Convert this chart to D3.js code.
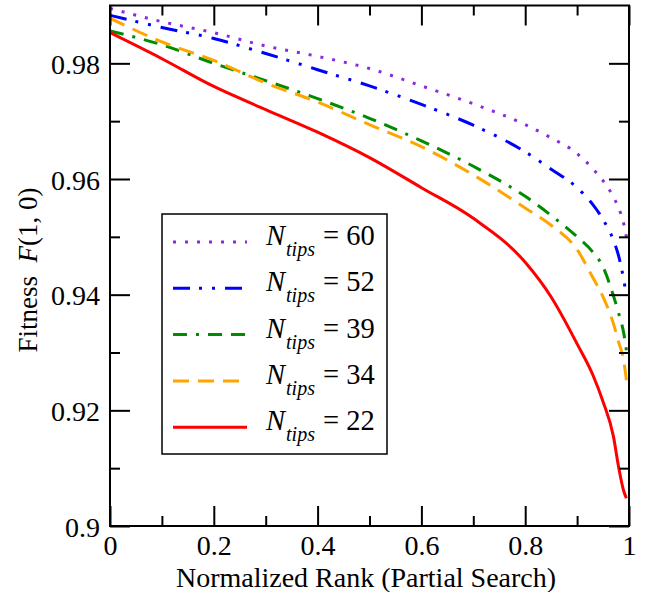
<!DOCTYPE html>
<html>
<head>
<meta charset="utf-8">
<script src="https://cdn.jsdelivr.net/npm/d3@7/dist/d3.min.js"></script>
<style>
  html, body { margin: 0; padding: 0; background: #fff; }
  svg, svg text { font-family: "Liberation Serif", "Times New Roman", Times, "DejaVu Serif", serif !important; }
</style>
</head>
<body>
<svg id="chart" width="646" height="592"></svg>
<script>
// ---- data ----
const xValues = [0, 0.1, 0.2, 0.3, 0.4, 0.5, 0.6, 0.7, 0.8, 0.85, 0.9, 0.93, 0.95, 0.97, 0.98, 0.99, 0.995];
const fit60 = [0.9895, 0.9872, 0.9853, 0.9830, 0.9812, 0.9791, 0.9761, 0.9730, 0.9694, 0.9671, 0.9644, 0.9618, 0.9597, 0.9569, 0.9550, 0.9522, 0.9500];
const fit52 = [0.9883, 0.9862, 0.9843, 0.9817, 0.9789, 0.9761, 0.9729, 0.9693, 0.9647, 0.9617, 0.9585, 0.9556, 0.9530, 0.9494, 0.9467, 0.9425, 0.9398];
const fit39 = [0.9856, 0.9832, 0.9800, 0.9770, 0.9739, 0.9705, 0.9666, 0.9622, 0.9570, 0.9537, 0.9500, 0.9474, 0.9448, 0.9398, 0.9368, 0.9333, 0.9304];
const fit34 = [0.9878, 0.9837, 0.9805, 0.9766, 0.9733, 0.9694, 0.9656, 0.9607, 0.9550, 0.9520, 0.9478, 0.9430, 0.9396, 0.9350, 0.9318, 0.9285, 0.9252];
const fit22 = [0.9853, 0.9808, 0.9760, 0.9720, 0.9681, 0.9637, 0.9585, 0.9532, 0.9456, 0.9396, 0.9315, 0.9262, 0.9215, 0.9155, 0.9102, 0.9060, 0.9048];
const seriesNames = ["60", "52", "39", "34", "22"];
const seriesColors = ["#8a2be2", "#0000ff", "#008b00", "#ffa500", "#ff0000"];
const seriesDash = ["3,9", "17,9,3,10,3,10", "14,9,3,9,14,9", "16,9", null];
const xMajorTicks = [0, 0.2, 0.4, 0.6, 0.8, 1];
const xTickLabels = ["0", "0.2", "0.4", "0.6", "0.8", "1"];
const xMinorTicks = [0.1, 0.3, 0.5, 0.7, 0.9];
const yMajorTicks = [0.90, 0.92, 0.94, 0.96, 0.98];
const yTickLabels = ["0.9", "0.92", "0.94", "0.96", "0.98"];
const yMinorTicks = [0.91, 0.93, 0.95, 0.97, 0.99];

const allSeries = [fit60, fit52, fit39, fit34, fit22];

// ---- layout ----
const FONT = "Liberation Serif, Times New Roman, Times, serif";
const svg = d3.select("#chart").attr("font-family", FONT);
const L = 110, R = 629, T = 5.5, B = 526;
const x = d3.scaleLinear().domain([0, 1]).range([L, R]);
const y = d3.scaleLinear().domain([0.9, 0.99]).range([B, T]);
const FS = 28;

// curves
const line = d3.line().x(d => x(d[0])).y(d => y(d[1])).curve(d3.curveMonotoneX);
svg.append("clipPath").attr("id", "clip").append("rect")
  .attr("x", L).attr("y", T - 2).attr("width", R - L).attr("height", B - T + 2);
const curves = svg.append("g").attr("clip-path", "url(#clip)");
allSeries.forEach((vals, i) => {
  curves.append("path")
    .datum(xValues.map((xv, j) => [xv, vals[j]]))
    .attr("d", line)
    .attr("fill", "none")
    .attr("stroke", seriesColors[i])
    .attr("stroke-width", 3)
    .attr("stroke-dasharray", seriesDash[i]);
});

// axes
function styleAxis(g) {
  g.attr("font-family", FONT);
  g.select(".domain").remove();
  g.selectAll(".tick line").attr("stroke", "#000").attr("stroke-width", 2);
}
svg.append("g").attr("transform", `translate(0,${B})`)
  .call(d3.axisBottom(x).tickValues(xMajorTicks).tickSize(-20).tickPadding(12)
    .tickFormat((d, i) => xTickLabels[i]))
  .call(styleAxis)
  .call(g => g.selectAll("text").attr("font-size", FS).attr("fill", "#000")
    .attr("font-family", FONT).attr("y", 29).attr("dy", null));
svg.append("g").attr("transform", `translate(0,${B})`)
  .call(d3.axisBottom(x).tickValues(xMinorTicks).tickSize(-10).tickFormat(""))
  .call(styleAxis);
svg.append("g").attr("transform", `translate(0,${T})`)
  .call(d3.axisTop(x).tickValues(xMajorTicks).tickSize(-20).tickFormat(""))
  .call(styleAxis);
svg.append("g").attr("transform", `translate(0,${T})`)
  .call(d3.axisTop(x).tickValues(xMinorTicks).tickSize(-10).tickFormat(""))
  .call(styleAxis);

svg.append("g").attr("transform", `translate(${L},0)`)
  .call(d3.axisLeft(y).tickValues(yMajorTicks).tickSize(-20).tickPadding(10)
    .tickFormat((d, i) => yTickLabels[i]))
  .call(styleAxis)
  .call(g => g.selectAll("text").attr("font-size", FS).attr("fill", "#000")
    .attr("font-family", FONT).attr("x", -10).attr("dy", "0.36em"));
svg.append("g").attr("transform", `translate(${L},0)`)
  .call(d3.axisLeft(y).tickValues(yMinorTicks.filter(v => v < 0.99)).tickSize(-10).tickFormat(""))
  .call(styleAxis);
svg.append("g").attr("transform", `translate(${R},0)`)
  .call(d3.axisRight(y).tickValues(yMajorTicks).tickSize(-20).tickFormat(""))
  .call(styleAxis);
svg.append("g").attr("transform", `translate(${R},0)`)
  .call(d3.axisRight(y).tickValues(yMinorTicks.filter(v => v < 0.99)).tickSize(-10).tickFormat(""))
  .call(styleAxis);

// frame
svg.append("rect").attr("x", L).attr("y", T).attr("width", R - L).attr("height", B - T)
  .attr("fill", "none").attr("stroke", "#000").attr("stroke-width", 2);

// axis titles
svg.append("text").attr("x", 366).attr("y", 587)
  .attr("text-anchor", "middle").attr("font-size", 28).attr("fill", "#000")
  .text("Normalized Rank (Partial Search)");
const yt = svg.append("text").attr("transform", "translate(37,270) rotate(-90)")
  .attr("text-anchor", "middle").attr("font-size", 27).attr("fill", "#000");
yt.append("tspan").text("Fitness\u00a0\u00a0");
yt.append("tspan").attr("font-style", "italic").text("F");
yt.append("tspan").text("(1, 0)");

// legend
const lg = svg.append("g");
lg.append("rect").attr("x", 162).attr("y", 214).attr("width", 225).attr("height", 240)
  .attr("fill", "#fff").attr("stroke", "#000").attr("stroke-width", 1.5);
seriesNames.forEach((name, i) => {
  const ly = 242 + i * 46.3;
  lg.append("line").attr("x1", 173).attr("x2", 247).attr("y1", ly).attr("y2", ly)
    .attr("stroke", seriesColors[i]).attr("stroke-width", 3)
    .attr("stroke-dasharray", seriesDash[i]);
  const t = lg.append("text").attr("x", 266).attr("y", ly + 3).attr("font-size", 28.5).attr("fill", "#000");
  t.append("tspan").attr("font-style", "italic").text("N");
  t.append("tspan").attr("font-style", "italic").attr("font-size", 20).attr("dx", 1).attr("dy", 11).text("tips");
  t.append("tspan").attr("x", 323).attr("dy", -11).text("= " + name);
});
</script>
</body>
</html>
